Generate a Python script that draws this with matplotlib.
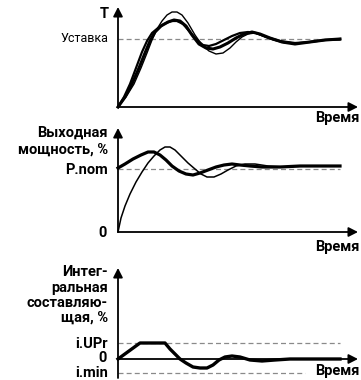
import matplotlib
matplotlib.use("Agg")
import matplotlib.pyplot as plt

plt.rcParams['font.family'] = ['Roboto', 'DejaVu Sans']

# time axis in seconds, values in % (schematic units)
# temperature, three controller runs
t_T1 = [0, 8, 16, 23, 29, 34, 39, 44, 49, 54, 59, 64, 70, 77, 84, 91, 98, 105, 112, 118, 124, 130, 137, 145, 155, 167, 182, 197, 210, 222]
T1 = [0, 10, 23, 39, 54, 67, 78, 86, 92, 95, 95, 92, 84, 72, 62, 56, 53, 54, 59, 65, 70, 73, 74, 71, 67, 64, 64, 66, 67, 67]
t_T2 = [0, 7, 14, 21, 27, 32, 37, 43, 50, 56, 62, 68, 74, 81, 88, 95, 102, 110, 118, 126, 134, 142, 152, 164, 177, 192, 207, 222]
T2 = [0, 10, 23, 39, 54, 66, 75, 81, 85, 87, 86, 81, 72, 63, 59, 58, 60, 64, 69, 73, 75, 73, 69, 65, 63, 65, 67, 68]
t_T3 = [0, 6, 12, 18, 24, 29, 34, 40, 46, 53, 59, 65, 72, 79, 85, 91, 98, 106, 114, 122, 130, 138, 148, 162, 177, 192, 207, 222]
T3 = [0, 10, 23, 39, 55, 66, 74, 79, 83, 86, 86, 83, 75, 67, 62, 61, 63, 67, 71, 74, 75, 74, 70, 66, 64, 65, 67, 68]
setpoint = 68

# output power
t_P1 = [0, 7, 15, 23, 30, 36, 42, 48, 54, 61, 68, 75, 82, 90, 98, 106, 114, 122, 132, 144, 162, 182, 222]
P1 = [64, 68, 73, 77, 80, 80, 77, 72, 66, 61, 58, 57, 59, 62, 65, 67, 68, 67, 66, 65, 65, 66, 66]
t_P2 = [0, 3, 7, 12, 18, 24, 30, 36, 42, 47, 52, 57, 63, 70, 77, 83, 89, 96, 103, 110, 118, 127, 137, 150, 167, 187, 222]
P2 = [0, 14, 26, 38, 50, 60, 69, 76, 82, 85, 85, 82, 76, 69, 63, 58, 55, 55, 58, 62, 66, 68, 68, 66, 65, 66, 66]
p_nom = 63

# integral term
t_I = [0, 11, 22, 47, 52, 57, 62, 68, 75, 82, 89, 95, 101, 107, 114, 122, 132, 144, 157, 172, 222]
I = [0, 8, 16, 16, 10, 5, 0, -4, -8, -9, -9, -6, -1, 2, 3, 2, -1, -2, -1, 0, 0]
i_upr = 16
i_min = -14

t_end = 240
dash_grey = '#8a8a8a'

fig = plt.figure(figsize=(3.61, 3.80), dpi=100)

left, width = 118 / 361, 240 / 361
ax1 = fig.add_axes([left, 273 / 380, width, 100 / 380])
ax2 = fig.add_axes([left, 148 / 380, width, 104 / 380])
ax3 = fig.add_axes([left, 2 / 380, width, 110 / 380])
ax1.set_ylim(0, 100)
ax2.set_ylim(0, 104)
ax3.set_ylim(-19, 91)
for ax in (ax1, ax2, ax3):
    ax.set_xlim(0, t_end)
    ax.axis('off')
    ax.patch.set_alpha(0)


def axes_arrows(ax, y0, ybot, ytop):
    ap = dict(arrowstyle='-|>,head_length=0.55,head_width=0.28', color='black',
              lw=1.3, shrinkA=0, shrinkB=0, mutation_scale=10)
    ax.annotate('', xy=(0, ytop), xytext=(0, ybot), arrowprops=ap, annotation_clip=False)
    ax.annotate('', xy=(t_end, y0), xytext=(0, y0), arrowprops=ap, annotation_clip=False)


def dashed(ax, y, t1):
    ax.plot([0, t1], [y, y], color=dash_grey, lw=0.9, dashes=(4, 2.5), clip_on=False)


lab = dict(ha='right', va='center', fontsize=10.5, fontweight='bold', color='black')

# temperature
dashed(ax1, setpoint, 222)
ax1.plot(t_T1, T1, color='black', lw=1.0, clip_on=False)
ax1.plot(t_T2, T2, color='black', lw=2.2, clip_on=False)
ax1.plot(t_T3, T3, color='black', lw=1.6, clip_on=False)
axes_arrows(ax1, 0, 0, 100)
ax1.text(-9, 93, 'T', **lab)
ax1.text(-10, setpoint, 'Уставка', ha='right', va='center', fontsize=9, color='black')
ax1.text(241, -11, 'Время', **lab)

# output power
dashed(ax2, p_nom, 222)
ax2.plot(t_P1, P1, color='black', lw=2.3, clip_on=False)
ax2.plot(t_P2, P2, color='black', lw=1.1, clip_on=False)
axes_arrows(ax2, 0, 0, 104)
ax2.text(-10, 99, 'Выходная', **lab)
ax2.text(-10, 82, 'мощность, %', **lab)
ax2.text(-10, 62, 'P.nom', **lab)
ax2.text(-11, -1, '0', **lab)
ax2.text(241, -15, 'Время', **lab)

# integral term
dashed(ax3, i_upr, 222)
dashed(ax3, i_min, 187)
ax3.plot(t_I, I, color='black', lw=2.4, clip_on=False)
axes_arrows(ax3, 0, -19, 91)
ax3.text(-10, 87, 'Интег-', **lab)
ax3.text(-10, 71, 'ральная', **lab)
ax3.text(-10, 56, 'составляю-', **lab)
ax3.text(-10, 41, 'щая, %', **lab)
ax3.text(-10, 15, 'i.UPr', **lab)
ax3.text(-11, 1, '0', **lab)
ax3.text(-10, -14, 'i.min', **lab)
ax3.text(241, -12, 'Время', **lab)

fig.savefig('out.png', dpi=100)
